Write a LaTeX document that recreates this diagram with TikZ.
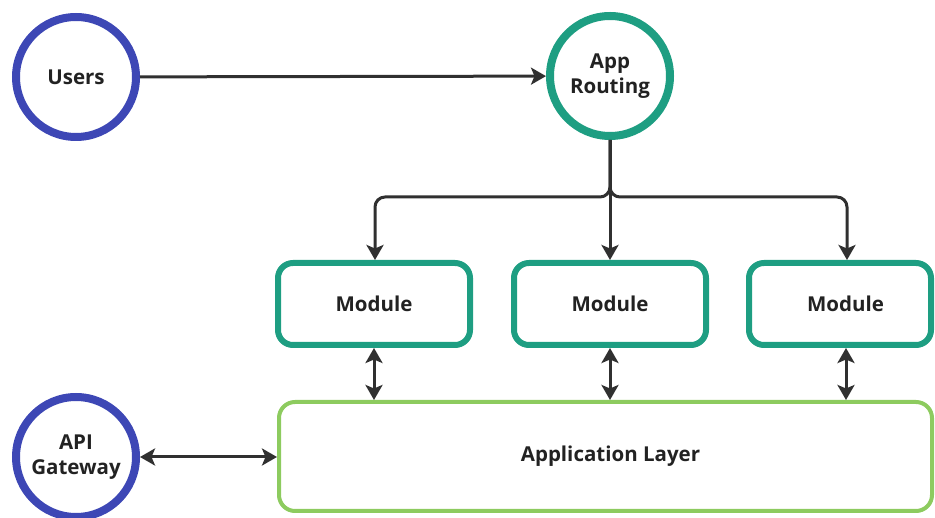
\documentclass[tikz,border=0pt]{standalone}
\usepackage{fontspec}
\setmainfont{Open Sans}
\usetikzlibrary{arrows.meta}
\definecolor{cblue}{HTML}{3D47B5}
\definecolor{cteal}{HTML}{1E9E82}
\definecolor{cgreen}{HTML}{8DCB5F}
\definecolor{cline}{HTML}{303030}
\definecolor{ctext}{HTML}{222222}
\tikzset{
  lbl/.style={text=ctext, font=\bfseries\fontsize{20.5}{28}\selectfont},
  bluecirc/.style={circle, draw=cblue, line width=8pt, minimum size=120pt, fill=white, lbl, align=center, inner sep=0pt},
  tealcirc/.style={bluecirc, draw=cteal},
  modbox/.style={rectangle, rounded corners=15pt, draw=cteal, line width=6pt, minimum width=192pt, minimum height=82pt, lbl},
  layerbox/.style={rectangle, rounded corners=16pt, draw=cgreen, line width=4pt, minimum width=653pt, minimum height=109pt, lbl},
  tip/.style={},
  arr/.style={draw=cline, line width=3pt, -{Stealth[length=15pt,width=17pt,inset=3.5pt]}},
  biarr/.style={draw=cline, line width=3pt, {Stealth[length=15pt,width=17pt,inset=3.5pt]}-{Stealth[length=15pt,width=17pt,inset=3.5pt]}},
}
\begin{document}
\begin{tikzpicture}[x=1pt,y=-1pt]
\useasboundingbox (0,0) rectangle (935,518);
\node[bluecirc] (users) at (76,77) {Users};
\node[tealcirc] (app) at (610,76) {App\\[-3pt]Routing};
\node[modbox] (m1) at (374,304) {Module};
\node[modbox] (m2) at (610,304) {Module};
\node[modbox, minimum width=182pt] (m3) at (840,304) {\hspace{11pt}Module};
\node[layerbox] (layer) at (605.5,456.5) {\hspace{10pt}Application Layer};
\node[bluecirc] (api) at (76,457) {API\\[-3pt]Gateway};
\coordinate (j) at (610,197);
\draw[arr] (users) -- (app);
\draw[arr] (app.south) -- (m2.north);
\draw[arr, rounded corners=10pt] (app.south) |- ([xshift=1pt]m1.north |- j) -- ([xshift=1pt]m1.north);
\draw[arr, rounded corners=10pt] (app.south) |- ([xshift=7pt]m3.north |- j) -- ([xshift=7pt]m3.north);
\draw[biarr] (m1.south) -- (m1.south |- layer.north);
\draw[biarr] (m2.south) -- (m2.south |- layer.north);
\draw[biarr] ([xshift=6pt]m3.south) -- ([xshift=6pt]m3.south |- layer.north);
\draw[biarr] (api.east) -- (api.east -| layer.west);
\end{tikzpicture}
\end{document}
